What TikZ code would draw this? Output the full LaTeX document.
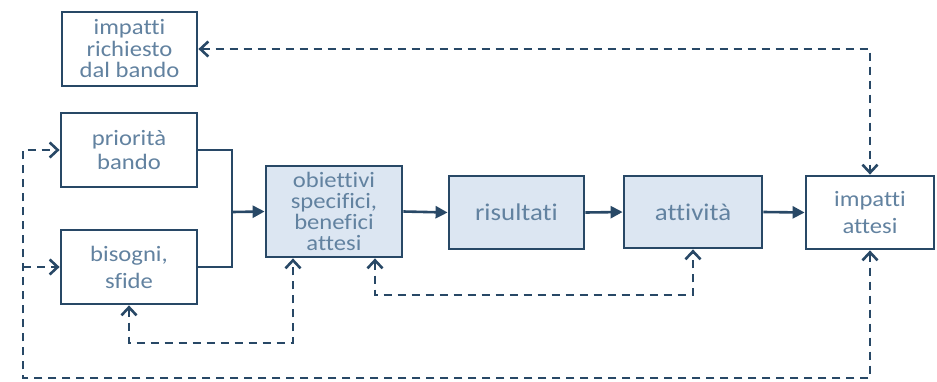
\documentclass[tikz,border=0pt]{standalone}
\usepackage{fontspec}
\setmainfont{Carlito}[FakeStretch=1.12,Ligatures=CommonOff]
\usetikzlibrary{arrows.meta,calc}
\definecolor{edge}{RGB}{40,72,102}
\definecolor{txt}{RGB}{98,130,160}
\definecolor{shade}{RGB}{220,230,242}
\begin{document}
\begin{tikzpicture}[x=1pt,y=-1pt,
  box/.style={draw=edge,line width=2.8pt,fill=white,rectangle,text=txt,align=center,inner sep=0pt},
  shadedbox/.style={box,fill=shade},
  flow/.style={draw=edge,line width=2.6pt,-{Triangle[length=12pt,width=12pt]}},
  fb/.style={draw=edge,line width=2.6pt,dash pattern=on 8pt off 6pt},
  barb/.tip={Straight Barb[length=8pt,width=15pt,line width=2.6pt]},
]
\fill[white] (0,0) rectangle (937,381);
\useasboundingbox (0,0) rectangle (937,381);

\node[box,minimum width=135pt,minimum height=74pt,font=\fontsize{22}{21.5}\selectfont] (req) at (129.5,49) {impatti\\richiesto\\dal bando};
\node[box,minimum width=136pt,minimum height=74pt,font=\fontsize{22}{24}\selectfont] (prio) at (129,150) {priorità\\bando};
\node[box,minimum width=136pt,minimum height=74pt,font=\fontsize{22}{27}\selectfont] (bis) at (129,267) {bisogni,\\sfide};
\node[shadedbox,minimum width=136pt,minimum height=91pt,font=\fontsize{22}{21}\selectfont] (obi) at (334,211.5) {obiettivi\\specifici,\\benefici\\attesi};
\node[shadedbox,minimum width=135pt,minimum height=73pt,font=\fontsize{24}{24}\selectfont] (ris) at (516.5,212.5) {risultati};
\node[shadedbox,minimum width=138pt,minimum height=72pt,font=\fontsize{24}{24}\selectfont] (att) at (693,212) {attività};
\node[box,minimum width=128pt,minimum height=73pt,font=\fontsize{22}{27}\selectfont] (imp) at (870,212.5) {impatti\\attesi};

\coordinate (jn) at (232,212);
\coordinate (c1) at (375,295);
\coordinate (c2) at (293,343);
\coordinate (c3) at (23,378);

% solid flow
\draw[draw=edge,line width=2.6pt] (prio.east) -| (jn);
\draw[draw=edge,line width=2.6pt] (bis.east) -| (jn);
\draw[flow] (jn) -- (obi.west);
\draw[flow] (obi.east) -- (ris.west);
\draw[flow] (ris.east) -- (att.west);
\draw[flow] (att.east) -- (imp.west);

% dashed feedback
\draw[fb,barb-barb] (req.east) -| (imp.north);
\draw[fb,barb-barb] (obi.south -| c1) -- (c1) -- (c1 -| att.south) -- (att.south);
\draw[fb,barb-barb] (bis.south) |- (c2) -- (obi.south -| c2);
\draw[fb,barb-barb] (imp.south) |- (c3) |- (prio.west);
\draw[fb,-barb] (c3 |- bis.west) -- (bis.west);
\end{tikzpicture}
\end{document}
